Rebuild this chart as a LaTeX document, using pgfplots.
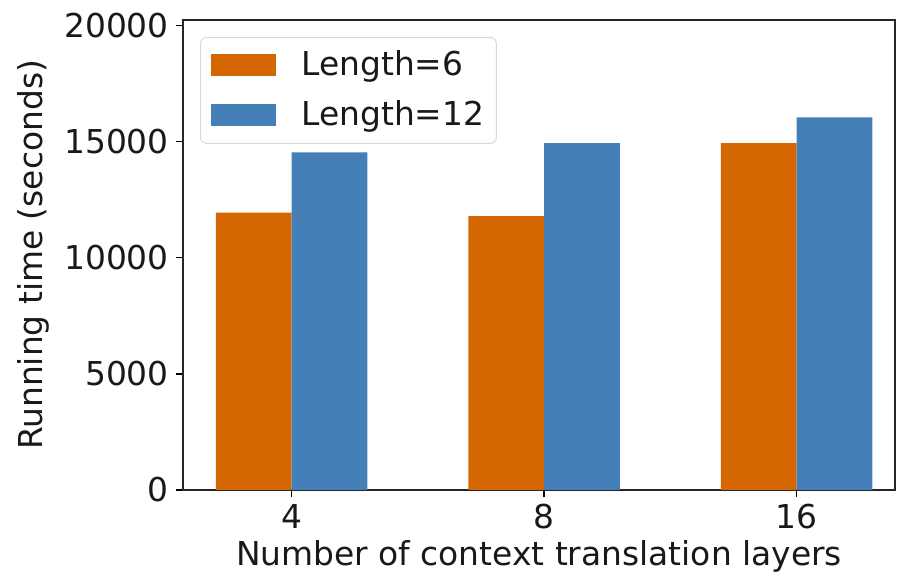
\documentclass[border=0pt]{standalone}
\usepackage{pgfplots}
\pgfplotsset{compat=1.18}
\usepackage{fontspec}
\setmainfont{DejaVu Sans}

\definecolor{lenSix}{RGB}{213,103,3}
\definecolor{lenTwelve}{RGB}{68,128,183}

\pgfplotstableread{
x  len6   len12
0  11950  14550
1  11800  14950
2  14950  16050
}\runtimes

\newcommand{\chartfont}{\fontsize{33}{39}\selectfont}

\begin{document}
\chartfont
\begin{tikzpicture}
\useasboundingbox (0bp,0bp) rectangle (897bp,578bp);
\begin{axis}[
  at={(183bp,88bp)}, anchor=south west,
  scale only axis, width=712bp, height=470bp,
  xmin=-0.43, xmax=2.39, ymin=0, ymax=20250,
  ybar=0pt, bar width=0.3,
  xtick={0,1,2}, xticklabels={4,8,16},
  ytick={0,5000,10000,15000,20000},
  scaled y ticks=false,
  /pgf/number format/assume math mode=true,
  yticklabel style={/pgf/number format/1000 sep={}},
  xtick pos=bottom, ytick pos=left,
  tick align=outside, major tick length=7bp,
  every tick/.style={black, line width=1.2bp},
  axis line style={line width=1.4bp, black!85},
  tick label style={font=\chartfont, black!90},
  label style={font=\chartfont, black!90},
  xticklabel style={inner sep=0bp, yshift=-7bp},
  yticklabel style={inner sep=0bp, xshift=-7bp},
  xlabel={Number of context translation layers},
  ylabel={Running time (seconds)},
  xlabel style={at={(rel axis cs:0.5,0)}, anchor=north, yshift=-50bp, inner sep=0bp},
  ylabel style={at={(rel axis cs:0,0.5)}, anchor=south, yshift=133bp, inner sep=0bp},
  legend style={
    at={(0.0239,0.9638)}, anchor=north west,
    draw=black!15, line width=1bp, rounded corners=6bp,
    font=\chartfont,
    inner xsep=10bp, inner ysep=11bp,
    row sep=16bp, column sep=24bp,
    nodes={inner sep=2bp, text=black!90},
  },
  legend cell align=left,
  legend image code/.code={\fill[#1, sharp corners] (0bp,-11bp) rectangle (65bp,11bp);},
]
\addplot[fill=lenSix, draw=none] table[x=x, y=len6] {\runtimes};
\addlegendentry{Length=6}
\addplot[fill=lenTwelve, draw=none] table[x=x, y=len12] {\runtimes};
\addlegendentry{Length=12}
\end{axis}
\end{tikzpicture}
\end{document}
